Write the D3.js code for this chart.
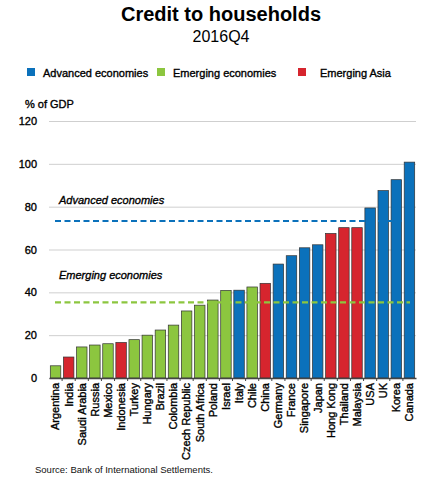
<!DOCTYPE html>
<html>
<head>
<meta charset="utf-8">
<script src="https://cdn.jsdelivr.net/npm/d3@7"></script>
<style>
  body { margin: 0; background: #fff; }
  svg { font-family: "Liberation Sans", Arial, sans-serif; }
</style>
</head>
<body>
<svg id="chart" width="426" height="497"></svg>
<script>
const countries = ['Argentina', 'India', 'Saudi Arabia', 'Russia', 'Mexico', 'Indonesia', 'Turkey', 'Hungary', 'Brazil', 'Colombia', 'Czech Republic', 'South Africa', 'Poland', 'Israel', 'Italy', 'Chile', 'China', 'Germany', 'France', 'Singapore', 'Japan', 'Hong Kong', 'Thailand', 'Malaysia', 'USA', 'UK', 'Korea', 'Canada']
const credit = [5.7, 9.8, 14.5, 15.4, 16, 16.6, 17.9, 20, 22.4, 24.7, 31.3, 34, 36.4, 40.9, 41, 42.5, 44.2, 53.2, 57.1, 60.8, 62.2, 67.5, 70.2, 70.2, 79.4, 87.5, 92.6, 100.8]
const groups = ['eme', 'asia', 'eme', 'eme', 'eme', 'asia', 'eme', 'eme', 'eme', 'eme', 'eme', 'eme', 'eme', 'eme', 'adv', 'eme', 'asia', 'adv', 'adv', 'adv', 'adv', 'asia', 'asia', 'asia', 'adv', 'adv', 'adv', 'adv']
const legendKeys = ['adv', 'eme', 'asia']
const legendLabels = ['Advanced economies', 'Emerging economies', 'Emerging Asia']
const averages = [73.3, 35.3]
const averageLabels = ['Advanced economies', 'Emerging economies']
const yTicks = [0, 20, 40, 60, 80, 100, 120]

const colors = { adv: '#0b71bb', eme: '#8cc63f', asia: '#d6252e' }
const bold = 0.35 // faux medium weight

const margin = { left: 49, right: 10, top: 121, bottom: 119 }
const size = { width: 426, height: 497 }
const svg = d3.select('#chart')

const x = d3.scaleBand()
    .domain(countries)
    .range([margin.left, size.width - margin.right])
    .paddingInner(0.2)
    .paddingOuter(0.1)

const y = d3.scaleLinear()
    .domain([0, 120])
    .range([size.height - margin.bottom, margin.top])

// titles
svg.append('text')
    .attr('x', 221).attr('y', 21)
    .attr('text-anchor', 'middle')
    .style('font-size', '20px').style('font-weight', 'bold')
    .text('Credit to households')
svg.append('text')
    .attr('x', 221).attr('y', 42)
    .attr('text-anchor', 'middle')
    .style('font-size', '16px')
    .text('2016Q4')

// legend
const legendX = [27, 157, 298]
const legendTextX = [43, 173, 320]
legendKeys.forEach((k, i) => {
    svg.append('rect')
        .attr('x', legendX[i]).attr('y', 68)
        .attr('width', 8).attr('height', 8)
        .attr('fill', colors[k])
    svg.append('text')
        .attr('x', legendTextX[i]).attr('y', 76.5)
        .style('font-size', '11px')
        .style('stroke', '#000').style('stroke-width', bold)
        .text(legendLabels[i])
})

svg.append('text')
    .attr('x', 25).attr('y', 108)
    .style('font-size', '11px')
    .style('stroke', '#000').style('stroke-width', bold)
    .text('% of GDP')

// gridlines + y labels
const grid = svg.append('g').attr('class', 'y-axis')
    .attr('transform', `translate(${margin.left},0)`)
    .call(d3.axisLeft(y).tickValues(yTicks)
        .tickSize(-(size.width - margin.left - margin.right))
        .tickPadding(12))
grid.select('.domain').remove()
grid.selectAll('.tick line').attr('stroke', '#cfcfcf').attr('stroke-width', 1)
grid.selectAll('.tick text')
    .style('font-size', '11px')
    .style('font-family', '"Liberation Sans", Arial, sans-serif')
    .style('stroke', '#000').style('stroke-width', bold)
    .attr('fill', '#000')

// bars
svg.append('g').attr('class', 'bars')
    .selectAll('rect')
    .data(countries)
    .enter()
        .append('rect')
        .attr('x', d => x(d))
        .attr('width', x.bandwidth())
        .attr('y', (d, i) => y(credit[i]))
        .attr('height', (d, i) => y(0) - y(credit[i]))
        .attr('fill', (d, i) => colors[groups[i]])
        .attr('stroke', '#333')
        .attr('stroke-width', 0.7)

// x axis
const xAxis = svg.append('g').attr('class', 'x-axis')
    .attr('transform', `translate(0,${y(0)})`)
    .call(d3.axisBottom(x).tickSize(0).tickPadding(5))
xAxis.select('.domain').attr('stroke', '#444').attr('stroke-width', 1.5)
xAxis.selectAll('.tick text')
    .attr('transform', 'rotate(-90)')
    .attr('text-anchor', 'end')
    .attr('x', -5).attr('y', 0).attr('dy', '0.35em')
    .style('font-size', '11px')
    .style('font-family', '"Liberation Sans", Arial, sans-serif')
    .style('stroke', '#000').style('stroke-width', bold)
    .attr('fill', '#000')

// small ticks between bars
const step = x.step()
svg.append('g')
    .selectAll('line')
    .data(countries.slice(1))
    .enter()
        .append('line')
        .attr('x1', d => x(d) - step * x.paddingInner() / 2)
        .attr('x2', d => x(d) - step * x.paddingInner() / 2)
        .attr('y1', y(0)).attr('y2', y(0) + 3)
        .attr('stroke', '#444')

// average lines
const avgColors = [colors.adv, colors.eme]
const avgEnd = [401.5, 410]
const avgLabelOffset = [17, 23]
averages.forEach((v, i) => {
    svg.append('line')
        .attr('x1', 55).attr('x2', avgEnd[i])
        .attr('y1', y(v)).attr('y2', y(v))
        .attr('stroke', avgColors[i])
        .attr('stroke-width', 2.2)
        .attr('stroke-dasharray', '6,3.5')
    svg.append('text')
        .attr('x', 59).attr('y', y(v) - avgLabelOffset[i])
        .style('font-size', '11px')
        .style('font-style', 'italic')
        .style('stroke', '#000').style('stroke-width', bold)
        .text(averageLabels[i])
})

svg.append('text')
    .attr('x', 35).attr('y', 473)
    .style('font-size', '9.5px')
    .attr('fill', '#111')
    .text('Source: Bank of International Settlements.')
</script>
</body>
</html>
